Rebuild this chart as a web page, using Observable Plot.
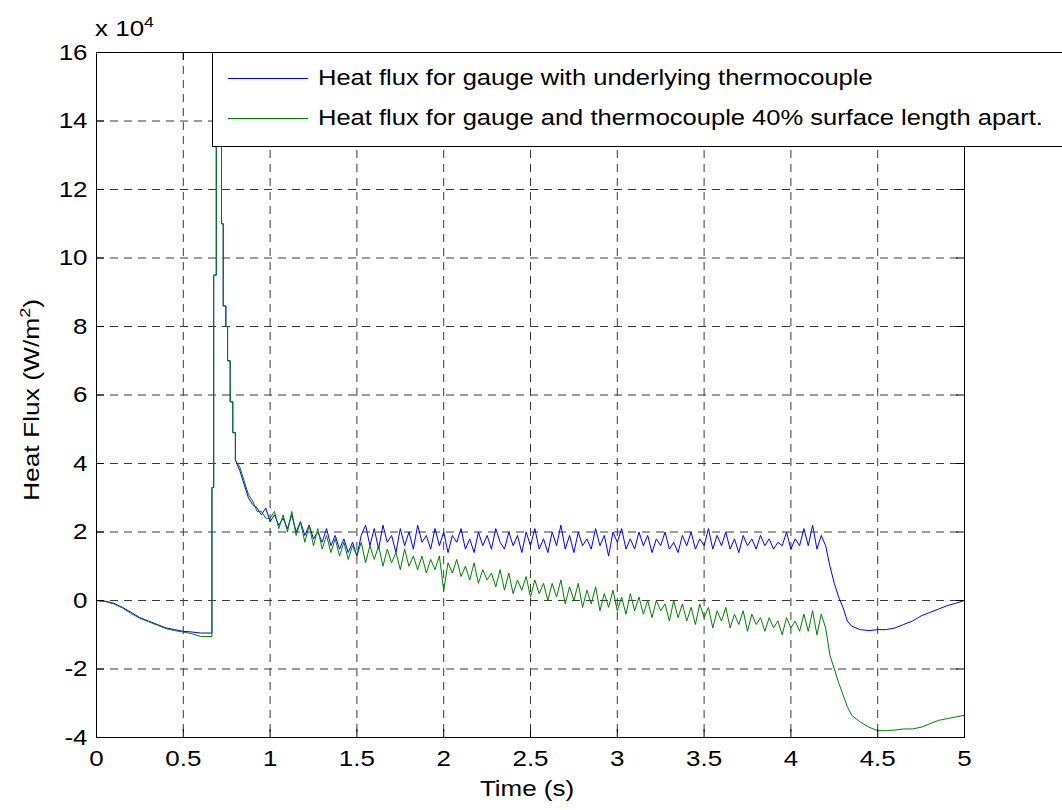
<!DOCTYPE html>
<html><head><meta charset="utf-8">
<script src="https://cdn.jsdelivr.net/npm/d3@7"></script>
<script src="https://cdn.jsdelivr.net/npm/@observablehq/plot@0.6"></script>
<style>
body{margin:0;background:#fff;}
#wrap{position:relative;width:1062px;height:810px;overflow:hidden;font-family:"Liberation Sans",Arial,sans-serif;color:#000;}
#wrap svg{position:absolute;left:0;top:0;}
.t{position:absolute;font-size:22px;line-height:22px;white-space:nowrap;}
.sup{font-size:15px;position:relative;top:-9px;}
</style></head><body><div id="wrap"></div>
<script>
// time in seconds
const time = [
0,0.05,0.1,0.15,0.2,0.25,0.3,0.35,0.4,0.45,0.5,0.55,0.6,
0.665,0.665,0.675,0.675,0.69,0.69,0.72,0.72,0.73,0.73,0.745,0.745,0.755,0.755,0.77,0.77,0.785,0.785,0.8,0.8,0.825,
0.85,0.875,0.9,0.925,0.95,0.975,1,1.025,1.05,1.075,
1.1,1.125,1.15,1.175,1.2,1.225,1.25,1.275,1.3,1.325,
1.35,1.375,1.4,1.425,1.45,1.475,1.5,1.525,1.55,1.575,
1.6,1.625,1.65,1.675,1.7,1.725,1.75,1.775,1.8,1.825,
1.85,1.875,1.9,1.925,1.95,1.975,2,2.025,2.05,2.075,
2.1,2.125,2.15,2.175,2.2,2.225,2.25,2.275,2.3,2.325,
2.35,2.375,2.4,2.425,2.45,2.475,2.5,2.525,2.55,2.575,
2.6,2.625,2.65,2.675,2.7,2.725,2.75,2.775,2.8,2.825,
2.85,2.875,2.9,2.925,2.95,2.975,3,3.025,3.05,3.075,
3.1,3.125,3.15,3.175,3.2,3.225,3.25,3.275,3.3,3.325,
3.35,3.375,3.4,3.425,3.45,3.475,3.5,3.525,3.55,3.575,
3.6,3.625,3.65,3.675,3.7,3.725,3.75,3.775,3.8,3.825,
3.85,3.875,3.9,3.925,3.95,3.975,4,4.025,4.05,4.075,
4.1,4.125,4.15,4.175,4.2,
4.225,4.25,4.275,4.3,4.325,4.35,4.4,4.45,4.5,4.55,4.6,4.65,4.7,4.75,4.8,4.85,4.9,4.95,5
];
// heat flux, units of 10^4 W/m^2 — gauge with underlying thermocouple (blue)
const fluxGauge = [
0,-0.02,-0.08,-0.2,-0.35,-0.5,-0.6,-0.7,-0.8,-0.85,-0.9,-0.92,-0.95,
-0.95,3.3,3.3,9.5,9.5,16,16,11,11,8.6,8.6,8.0,8.0,7.0,7.0,5.8,5.8,4.9,4.9,4.1,3.8,
3.4,3.0,2.8,2.7,2.5,2.7,2.3,2.5,2.2,2.4,
2.1,2.5,2.0,2.3,1.9,2.2,1.8,2.0,1.7,2.1,
1.6,1.9,1.5,1.8,1.4,1.7,1.3,1.9,2.2,1.6,
2.1,1.5,2.2,1.7,1.9,1.4,2.1,1.6,2.0,1.5,
2.2,1.7,1.9,1.5,2.1,1.6,2.0,1.4,1.9,1.7,
2.1,1.5,1.8,1.4,2.0,1.6,1.9,1.5,2.1,1.7,
1.5,2.0,1.6,1.9,1.4,2.0,1.6,2.1,1.5,1.8,
1.4,2.0,1.6,2.2,1.5,1.9,1.4,2.0,1.6,1.8,
1.5,2.1,1.6,1.9,1.3,2.0,1.7,2.1,1.5,1.8,
1.5,2.0,1.6,1.9,1.4,1.8,1.6,2.0,1.5,1.7,
1.4,1.9,1.6,2.0,1.5,1.8,1.6,2.1,1.5,1.9,
1.6,2.0,1.5,1.8,1.4,1.9,1.6,1.8,1.5,1.9,
1.6,1.8,1.5,1.7,1.6,2.0,1.5,1.8,1.6,2.1,
1.6,2.2,1.5,1.9,1.6,
1.0,0.5,0.1,-0.2,-0.6,-0.75,-0.85,-0.88,-0.85,-0.85,-0.8,-0.7,-0.6,-0.45,-0.35,-0.25,-0.15,-0.08,0.0
];
// heat flux, units of 10^4 W/m^2 — gauge and thermocouple 40% surface length apart (green)
const fluxApart = [
0,-0.03,-0.1,-0.22,-0.38,-0.52,-0.62,-0.72,-0.82,-0.88,-0.92,-0.97,-1.05,
-1.05,3.3,3.3,9.5,9.5,16,16,11,11,8.6,8.6,8.0,8.0,7.0,7.0,5.8,5.8,4.9,4.9,4.1,3.9,
3.5,3.1,2.9,2.6,2.6,2.4,2.4,2.6,2.1,2.5,
2.0,2.6,1.9,2.3,1.7,2.2,1.6,2.1,1.5,1.9,
1.4,1.8,1.3,1.7,1.2,1.6,1.3,1.7,1.1,1.6,
1.2,1.6,1.0,1.5,1.1,1.4,0.9,1.5,1.0,1.3,
0.9,1.3,0.8,1.2,0.9,1.3,0.3,1.1,0.8,1.2,
0.7,1.0,0.6,1.1,0.5,0.9,0.6,0.8,0.4,0.9,
0.3,0.8,0.2,0.6,0.3,0.7,0.1,0.6,0.2,0.5,
0.0,0.5,0.1,0.6,-0.1,0.4,0.0,0.5,-0.2,0.3,
-0.1,0.4,-0.3,0.2,-0.2,0.3,-0.3,0.1,-0.4,0.2,
-0.3,0.1,-0.4,0.0,-0.5,0.0,-0.3,-0.1,-0.6,0.0,
-0.5,-0.1,-0.6,-0.2,-0.7,-0.1,-0.5,-0.2,-0.8,-0.3,
-0.6,-0.2,-0.8,-0.4,-0.7,-0.3,-0.9,-0.4,-0.7,-0.5,
-0.9,-0.5,-0.8,-0.6,-1.0,-0.5,-0.8,-0.6,-0.9,-0.4,
-0.9,-0.3,-1.0,-0.4,-0.8,
-1.6,-2.0,-2.4,-2.75,-3.1,-3.35,-3.55,-3.7,-3.8,-3.8,-3.78,-3.75,-3.75,-3.7,-3.6,-3.5,-3.45,-3.4,-3.35
];
const xTicks = [0,0.5,1,1.5,2,2.5,3,3.5,4,4.5,5];
const yTicks = [-4,-2,0,2,4,6,8,10,12,14,16];
const seriesNames = [
  "Heat flux for gauge with underlying thermocouple",
  "Heat flux for gauge and thermocouple 40% surface length apart."
];
const seriesColors = ["#0000ff", "#008000"];
const xLabel = "Time (s)";
const yLabel = "Heat Flux (W/m";
const yLabelSup = "2";
const exponentText = "x 10";
const exponentSup = "4";

if (fluxGauge.length !== time.length || fluxApart.length !== time.length)
  throw new Error("length mismatch " + time.length + " " + fluxGauge.length + " " + fluxApart.length);

const rows = [
  ...time.map((t, i) => ({t, v: fluxGauge[i], s: seriesNames[0]})),
  ...time.map((t, i) => ({t, v: fluxApart[i], s: seriesNames[1]}))
];

const W = 1062, H = 810, mL = 96, mR = 98, mT = 52, mB = 73;
const innerW = W - mL - mR, innerH = H - mT - mB, tickLen = 8;
const gridStyle = {stroke: "#3a3a3a", strokeOpacity: 1, strokeWidth: 1, strokeDasharray: "8,6"};

const chart = Plot.plot({
  width: W, height: H,
  marginLeft: mL, marginRight: mR, marginTop: mT, marginBottom: mB,
  x: {domain: [0, 5]},
  y: {domain: [-4, 16]},
  color: {domain: seriesNames, range: seriesColors},
  style: {fontFamily: '"Liberation Sans", Arial, sans-serif', fontSize: "22px", background: "white", color: "black"},
  marks: [
    Plot.gridX(xTicks, gridStyle),
    Plot.gridY(yTicks, gridStyle),
    Plot.line(rows, {x: "t", y: "v", z: "s", stroke: "s", strokeWidth: 1, clip: true}),
    Plot.ruleX(xTicks, {stroke: "black", insetTop: innerH - tickLen}),
    Plot.ruleX(xTicks, {stroke: "black", insetBottom: innerH - tickLen}),
    Plot.ruleY(yTicks, {stroke: "black", insetRight: innerW - tickLen}),
    Plot.ruleY(yTicks, {stroke: "black", insetLeft: innerW - tickLen}),
    Plot.frame({stroke: "black", strokeWidth: 1}),
    Plot.axisX(xTicks, {anchor: "bottom", tickSize: 0, tickPadding: 13, tickFormat: d => String(d), label: null, fontSize: 22}),
    Plot.axisY(yTicks, {anchor: "left", tickSize: 0, tickPadding: 9, tickFormat: d => String(d), label: null, fontSize: 22})
  ]
});

const wrap = document.getElementById("wrap");
wrap.appendChild(chart);
chart.querySelectorAll('g[aria-label="x-axis tick label"] text, g[aria-label="y-axis tick label"] text').forEach(t => {
  const tr = t.getAttribute("transform");
  if (tr) t.setAttribute("transform", tr + " scale(1.18,1)");
});

function addText(html, style) {
  const d = document.createElement("div");
  d.className = "t";
  d.innerHTML = html;
  Object.assign(d.style, style);
  wrap.appendChild(d);
  return d;
}
addText(`${exponentText}<span class="sup">${exponentSup}</span>`, {left: "95px", top: "18px", transform: "scaleX(1.18)", transformOrigin: "left center"});
addText(xLabel, {left: "527px", top: "778px", transform: "translateX(-50%) scaleX(1.18)"});
addText(`${yLabel}<span class="sup">${yLabelSup}</span>)`, {left: "33px", top: "400px", transform: "translate(-50%,-50%) rotate(-90deg) scaleX(1.2)"});

// legend
const leg = document.createElement("div");
Object.assign(leg.style, {position: "absolute", left: "212px", top: "52px", width: "900px", height: "95px", boxSizing: "border-box", border: "1px solid #000", background: "#fff"});
wrap.appendChild(leg);
const legY = [25, 65];
seriesNames.forEach((name, i) => {
  const ln = document.createElement("div");
  Object.assign(ln.style, {position: "absolute", left: "15px", top: legY[i] + "px", width: "80px", height: "0", borderTop: "1px solid " + seriesColors[i]});
  leg.appendChild(ln);
  const tx = document.createElement("div");
  tx.className = "t";
  tx.textContent = name;
  Object.assign(tx.style, {left: "105px", top: (legY[i] - 11) + "px", transform: "scaleX(1.16)", transformOrigin: "left center"});
  leg.appendChild(tx);
});
</script></body></html>
